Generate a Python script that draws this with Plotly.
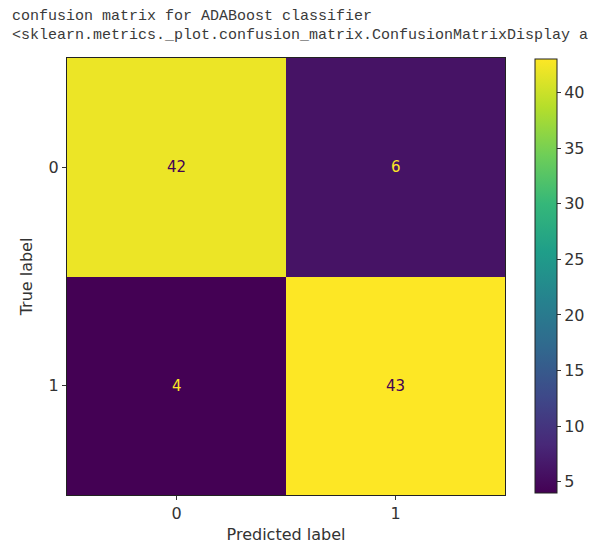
import plotly.graph_objects as go

# Data
pred_labels = ["0", "1"]
true_labels = ["0", "1"]
matrix = [[42, 6],
          [4, 43]]
cbar_ticks = [5, 10, 15, 20, 25, 30, 35, 40]
header_line1 = "confusion matrix for ADABoost classifier"
header_line2 = "<sklearn.metrics._plot.confusion_matrix.ConfusionMatrixDisplay a"

W, H = 591, 546
L, R, T, B = 67, 505, 58, 495
pw, ph = R - L, B - T

zmin = min(min(r) for r in matrix)
zmax = max(max(r) for r in matrix)
mid = (zmin + zmax) / 2

fig = go.Figure()
fig.add_trace(go.Heatmap(
    z=matrix,
    x=[0, 1],
    y=[0, 1],
    colorscale="Viridis",
    zmin=zmin, zmax=zmax,
    xgap=0, ygap=0,
    showscale=True,
    hoverinfo="skip",
    colorbar=dict(
        x=(535 - L) / pw, xanchor="left", xref="paper", xpad=0,
        y=(B - 493) / ph, yanchor="bottom", ypad=0,
        len=(493 - 59) / ph, lenmode="fraction",
        thickness=22, thicknessmode="pixels",
        outlinewidth=1, outlinecolor="#222222",
        tickvals=cbar_ticks,
        ticks="outside", ticklen=4, tickcolor="#333333",
        tickfont=dict(family="DejaVu Sans", size=16, color="#333333"),
    ),
))

annotations = []
for i in range(len(true_labels)):
    for j in range(len(pred_labels)):
        v = matrix[i][j]
        col = "#fde725" if v < mid else "#440154"
        annotations.append(dict(
            x=j, y=i, xref="x", yref="y", text=str(v), showarrow=False,
            font=dict(family="DejaVu Sans", size=15, color=col),
        ))

annotations.append(dict(
    x=(10 - L) / pw, y=(B - 16) / ph, xref="paper", yref="paper",
    xanchor="left", yanchor="middle", text=header_line1, showarrow=False,
    font=dict(family="Liberation Mono", size=15, color="#3a3a3a"),
))
annotations.append(dict(
    x=(10 - L) / pw, y=(B - 35) / ph, xref="paper", yref="paper",
    xanchor="left", yanchor="middle", text=header_line2, showarrow=False,
    font=dict(family="Liberation Mono", size=15, color="#3a3a3a"),
))

fig.update_layout(
    width=W, height=H,
    margin=dict(l=L, r=W - R, t=T, b=H - B, pad=0, autoexpand=False),
    paper_bgcolor="white", plot_bgcolor="white",
    annotations=annotations,
    xaxis=dict(
        range=[-0.5, 1.5], tickvals=[0, 1], ticktext=pred_labels,
        ticks="outside", ticklen=4, tickcolor="#333333",
        showline=True, linecolor="#222222", linewidth=1, mirror=True,
        showgrid=False, zeroline=False,
        tickfont=dict(family="DejaVu Sans", size=16, color="#333333"),
        title=dict(text="Predicted label", standoff=6,
                   font=dict(family="DejaVu Sans", size=16, color="#333333")),
    ),
    yaxis=dict(
        range=[1.5, -0.5], tickvals=[0, 1], ticktext=true_labels,
        ticks="outside", ticklen=4, tickcolor="#333333",
        showline=True, linecolor="#222222", linewidth=1, mirror=True,
        showgrid=False, zeroline=False,
        tickfont=dict(family="DejaVu Sans", size=16, color="#333333"),
        title=dict(text="True label", standoff=12,
                   font=dict(family="DejaVu Sans", size=16, color="#333333")),
    ),
)

fig.write_html("out.html",
               config={"displayModeBar": False},
               post_script="document.body.style.margin='0';document.body.style.overflow='hidden';")
